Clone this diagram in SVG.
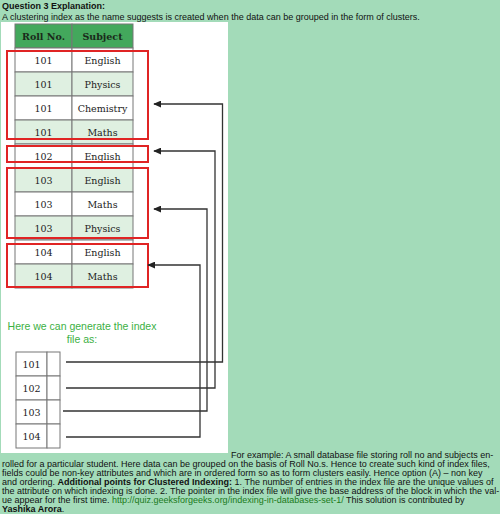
<svg xmlns="http://www.w3.org/2000/svg" width="500" height="514" viewBox="0 0 500 514">
<defs>
<style>
.t{font-family:"Liberation Sans",Arial,sans-serif;font-size:9px;fill:#111}
.b{font-weight:bold}
.c{font-family:"DejaVu Serif","Liberation Serif",serif;font-size:9.5px;fill:#222;text-anchor:middle}
.hd{font-weight:bold;fill:#1a2a1a}
.cell{stroke:#777;stroke-width:1}
.w{fill:#ffffff}
.g{fill:#dff0e1}
.red{fill:none;stroke:#e02424;stroke-width:2}
.con{fill:none;stroke:#333;stroke-width:1.3}
</style>
<marker id="ah" viewBox="0 0 10 10" refX="9" refY="5" markerWidth="8" markerHeight="7" markerUnits="userSpaceOnUse" orient="auto" preserveAspectRatio="none">
<path d="M0,0 L10,5 L0,10 Z" fill="#222"/>
</marker>
</defs>
<rect width="500" height="514" fill="#a3dbb9"/>
<text class="t b" x="2" y="9">Question 3 Explanation:</text>
<text class="t" x="2" y="20">A clustering index as the name suggests is created when the data can be grouped in the form of clusters.</text>
<rect x="1" y="22" width="227" height="431" fill="#ffffff"/>
<g id="table">
<rect class="cell" x="15" y="24" width="57" height="24" fill="#43a85c"/>
<rect class="cell" x="72" y="24" width="61" height="24" fill="#43a85c"/>
<text class="c hd" x="43.5" y="39.5">Roll No.</text>
<text class="c hd" x="102.5" y="39.5">Subject</text>
<rect class="cell w" x="15" y="48" width="57" height="24"/><rect class="cell w" x="72" y="48" width="61" height="24"/>
<text class="c" x="43.5" y="63.5">101</text><text class="c" x="102.5" y="63.5">English</text>
<rect class="cell g" x="15" y="72" width="57" height="24"/><rect class="cell g" x="72" y="72" width="61" height="24"/>
<text class="c" x="43.5" y="87.5">101</text><text class="c" x="102.5" y="87.5">Physics</text>
<rect class="cell w" x="15" y="96" width="57" height="24"/><rect class="cell w" x="72" y="96" width="61" height="24"/>
<text class="c" x="43.5" y="111.5">101</text><text class="c" x="102.5" y="111.5">Chemistry</text>
<rect class="cell g" x="15" y="120" width="57" height="24"/><rect class="cell g" x="72" y="120" width="61" height="24"/>
<text class="c" x="43.5" y="135.5">101</text><text class="c" x="102.5" y="135.5">Maths</text>
<rect class="cell w" x="15" y="144" width="57" height="24"/><rect class="cell w" x="72" y="144" width="61" height="24"/>
<text class="c" x="43.5" y="159.5">102</text><text class="c" x="102.5" y="159.5">English</text>
<rect class="cell g" x="15" y="168" width="57" height="24"/><rect class="cell g" x="72" y="168" width="61" height="24"/>
<text class="c" x="43.5" y="183.5">103</text><text class="c" x="102.5" y="183.5">English</text>
<rect class="cell w" x="15" y="192" width="57" height="24"/><rect class="cell w" x="72" y="192" width="61" height="24"/>
<text class="c" x="43.5" y="207.5">103</text><text class="c" x="102.5" y="207.5">Maths</text>
<rect class="cell g" x="15" y="216" width="57" height="24"/><rect class="cell g" x="72" y="216" width="61" height="24"/>
<text class="c" x="43.5" y="231.5">103</text><text class="c" x="102.5" y="231.5">Physics</text>
<rect class="cell w" x="15" y="240" width="57" height="24"/><rect class="cell w" x="72" y="240" width="61" height="24"/>
<text class="c" x="43.5" y="255.5">104</text><text class="c" x="102.5" y="255.5">English</text>
<rect class="cell g" x="15" y="264" width="57" height="24"/><rect class="cell g" x="72" y="264" width="61" height="24"/>
<text class="c" x="43.5" y="279.5">104</text><text class="c" x="102.5" y="279.5">Maths</text>
</g>
<g id="cluster-101"><rect class="red" x="7" y="51" width="141" height="88"/></g>
<g id="cluster-102"><rect class="red" x="7" y="146" width="141" height="16"/></g>
<g id="cluster-103"><rect class="red" x="7" y="168" width="141" height="70"/></g>
<g id="cluster-104"><rect class="red" x="7" y="244" width="141" height="43"/></g>
<text x="82" y="330" text-anchor="middle" style="font-family:'Liberation Sans',Arial,sans-serif;font-size:10.5px;fill:#3cb043">Here we can generate the index</text>
<text x="82" y="343" text-anchor="middle" style="font-family:'Liberation Sans',Arial,sans-serif;font-size:10.5px;fill:#3cb043">file as:</text>
<g id="index">
<rect class="cell w" x="16" y="352" width="31" height="24"/><rect class="cell w" x="47" y="352" width="13" height="24"/>
<text class="c" x="31.5" y="367.5">101</text>
<rect class="cell w" x="16" y="376" width="31" height="24"/><rect class="cell w" x="47" y="376" width="13" height="24"/>
<text class="c" x="31.5" y="391.5">102</text>
<rect class="cell w" x="16" y="400" width="31" height="24"/><rect class="cell w" x="47" y="400" width="13" height="24"/>
<text class="c" x="31.5" y="415.5">103</text>
<rect class="cell w" x="16" y="424" width="31" height="24"/><rect class="cell w" x="47" y="424" width="13" height="24"/>
<text class="c" x="31.5" y="439.5">104</text>
</g>
<g id="connectors">
<path class="con" d="M66,362 H222.5 V104 H154" marker-end="url(#ah)"/>
<path class="con" d="M66,388 H215 V151 H154" marker-end="url(#ah)"/>
<path class="con" d="M63,411 H207 V209 H154" marker-end="url(#ah)"/>
<path class="con" d="M66,437 H200 V265 H148" marker-end="url(#ah)"/>
</g>
<text class="t" x="231" y="458">For example: A small database file storing roll no and subjects en-</text>
<text class="t" x="2" y="467">rolled for a particular student. Here data can be grouped on the basis of Roll No.s. Hence to create such kind of index files,</text>
<text class="t" x="2" y="476">fields could be non-key attributes and which are in ordered form so as to form clusters easily. Hence option (A) – non key</text>
<text class="t" x="2" y="485">and ordering. <tspan class="b">Additional points for Clustered Indexing:</tspan> 1. The number of entries in the index file are the unique values of</text>
<text class="t" x="2" y="494">the attribute on which indexing is done. 2. The pointer in the index file will give the base address of the block in which the val-</text>
<text class="t" x="2" y="503">ue appear for the first time. <tspan fill="#1a7a1a">http://quiz.geeksforgeeks.org/indexing-in-databases-set-1/</tspan> This solution is contributed by</text>
<text class="t b" x="2" y="512">Yashika Arora<tspan style="font-weight:normal">.</tspan></text>
</svg>
